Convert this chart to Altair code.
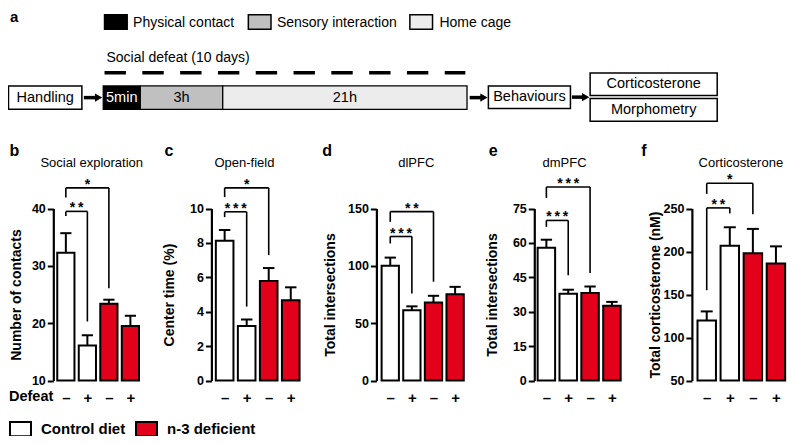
import json
import altair as alt
import pandas as pd

# ---------------- data ----------------
defeat = ["–", "+", "–", "+"]
diet = ["Control diet", "Control diet", "n-3 deficient", "n-3 deficient"]
diet_names = ["Control diet", "n-3 deficient"]
diet_colors = ["#ffffff", "#e2001a"]

panel_letters = ["b", "c", "d", "e", "f"]
panel_titles = ["Social exploration", "Open-field", "dlPFC", "dmPFC", "Corticosterone"]
y_titles = ["Number of contacts", "Center time (%)", "Total intersections",
            "Total intersections", "Total corticosterone (nM)"]
y_domains = [[10, 40], [0, 10], [0, 150], [0, 75], [50, 250]]
y_ticks = [[10, 20, 30, 40], [0, 2, 4, 6, 8, 10], [0, 50, 100, 150],
           [0, 15, 30, 45, 60, 75], [50, 100, 150, 200, 250]]

social_mean = [32.3, 16.1, 23.4, 19.5]
social_sem = [3.4, 1.8, 0.7, 1.8]
openfield_mean = [8.13, 3.17, 5.79, 4.67]
openfield_sem = [0.62, 0.38, 0.75, 0.75]
dlpfc_mean = [100.0, 61.2, 68.1, 75.3]
dlpfc_sem = [7.2, 3.5, 5.8, 6.4]
dmpfc_mean = [57.9, 37.8, 38.2, 32.6]
dmpfc_sem = [3.5, 1.8, 2.8, 1.7]
cort_mean = [119.9, 206.8, 198.0, 186.0]
cort_sem = [10.5, 21.4, 28.3, 20.0]

# significance brackets: (from, to, top, left foot, right foot, label)
social_sig = [(0, 1, 39.5, 38.7, 20.3, "**"), (0, 2, 43.6, 41.9, 26.1, "*")]
openfield_sig = [(0, 1, 9.81, 9.5, 4.3, "***"), (0, 2, 11.2, 10.66, 7.29, "*")]
dlpfc_sig = [(0, 1, 125.6, 119.5, 76.0, "***"), (0, 2, 147.3, 138.4, 86.2, "**")]
dmpfc_sig = [(0, 1, 69.8, 67.0, 45.9, "***"), (0, 2, 84.4, 79.6, 46.9, "***")]
cort_sig = [(0, 1, 250.7, 155.0, 244.3, "**"), (0, 2, 279.3, 267.0, 243.2, "*")]

# schematic (panel a)
key_labels = ["Physical contact", "Sensory interaction", "Home cage"]
phase_labels = ["5min", "3h", "21h"]
phase_fills = ["#000000", "#c0c0c0", "#ececec"]
phase_text = ["#ffffff", "#000000", "#000000"]
step_labels = ["Handling", "Behaviours", "Corticosterone", "Morphometry"]

# ---------------- layout (reference pixels) ----------------
W, H = 780, 428
SX, SY = 0.985, 0.971
X_DOM = [4, 4 + W / SX]
Y_DOM = [4, 4 + H / SY]


def cx(r):
    return (r - 4) * SX


def cy(r):
    return (r - 4) * SY


FONT = "Liberation Sans"
PLOT_TOP, PLOT_BOTTOM = 210.5, 387.7
LABEL_ROW = 405
axis_x = [50, 210.5, 378, 538.3, 698.3]
bar_span = [(54, 137), (215, 300), (383.3, 466.7), (541.7, 626), (704, 793)]
ytitle_x = [12.5, 168.3, 331, 496, 661]
title_x = [89, 244, 418.5, 569, 748]
letter_x = [5.5, 163, 323, 492, 647]
HW = 0.4      # half bar width (index units)
CAP = 0.26    # half error-cap width

cxs = alt.Scale(domain=X_DOM, range=[0, W], nice=False, zero=False)
cys = alt.Scale(domain=Y_DOM, range=[0, H], nice=False, zero=False)


def X(f):
    return alt.X(f, type="quantitative", scale=cxs, axis=None)


def Y(f):
    return alt.Y(f, type="quantitative", scale=cys, axis=None)


def text_layer(df, size, weight="normal", align="left", baseline="alphabetic", color="black"):
    return alt.Chart(df).mark_text(font=FONT, fontSize=size, fontWeight=weight, align=align,
                                   baseline=baseline, color=color).encode(
        x=X("x"), y=Y("y"), text="t:N")


# ---- canvas (schematic + labels) ----
keys_df = pd.DataFrame({"t": key_labels, "x": [102, 248, 412], "fill": phase_fills})
keys_df["x2"] = keys_df["x"] + 23
keys_df["y"] = 11
keys_df["y2"] = 26
key_rects = alt.Chart(keys_df).mark_rect(stroke="black", strokeWidth=1.5).encode(
    x=X("x"), x2="x2:Q", y=Y("y"), y2="y2:Q", fill=alt.Fill("fill:N", scale=None))
key_text = text_layer(pd.DataFrame({"t": key_labels, "x": [131, 277, 442], "y": [19.5] * 3}),
                      14, baseline="middle")

seg_df = pd.DataFrame({"t": phase_labels, "x": [100.7, 138.3, 222], "x2": [138.3, 222, 470],
                       "fill": phase_fills, "tc": phase_text})
seg_df["y"] = 84.3
seg_df["y2"] = 108.3
seg_rects = alt.Chart(seg_df).mark_rect(stroke="black", strokeWidth=1.3).encode(
    x=X("x"), x2="x2:Q", y=Y("y"), y2="y2:Q", fill=alt.Fill("fill:N", scale=None))
seg_text = alt.Chart(seg_df).transform_calculate(
    cxm="(datum.x + datum.x2) / 2", cym="(datum.y + datum.y2) / 2").mark_text(
    font=FONT, fontSize=14.5, baseline="middle", align="center").encode(
    x=X("cxm"), y=Y("cym"), text="t:N", fill=alt.Fill("tc:N", scale=None))

box_df = pd.DataFrame({"t": step_labels, "x": [4.5, 491.7, 595, 595], "x2": [79, 575, 724, 724],
                       "y": [84.3, 84.3, 71, 97.3], "y2": [108.3, 107.6, 94, 120.7]})
box_rects = alt.Chart(box_df).mark_rect(fill="white", stroke="black", strokeWidth=1.5).encode(
    x=X("x"), x2="x2:Q", y=Y("y"), y2="y2:Q")
box_text = alt.Chart(box_df).transform_calculate(
    cxm="(datum.x + datum.x2) / 2", cym="(datum.y + datum.y2) / 2").mark_text(
    font=FONT, fontSize=14.5, baseline="middle", align="center", color="black").encode(
    x=X("cxm"), y=Y("cym"), text="t:N")

arrow_df = pd.DataFrame({"x": [81, 472.7, 576.5], "x2": [100.5, 491.7, 595], "y": [96.3, 96.3, 95.8]})
arrow_df["xs"] = arrow_df["x2"] - 6
arrow_df["xh"] = arrow_df["x2"] - 4.5
arrow_shaft = alt.Chart(arrow_df).mark_rule(color="black", strokeWidth=3.5).encode(
    x=X("x"), x2="xs:Q", y=Y("y"))
arrow_head = alt.Chart(arrow_df).mark_point(shape="triangle-right", filled=True, color="black",
                                            opacity=1, size=70).encode(x=X("xh"), y=Y("y"))

dash_df = pd.DataFrame({"x": [102], "x2": [468.3], "y": [70.7]})
dashes = alt.Chart(dash_df).mark_rule(color="black", strokeWidth=3.5, strokeDash=[21.4, 16.4]).encode(
    x=X("x"), x2="x2:Q", y=Y("y"))

defeat_title = text_layer(pd.DataFrame({"t": ["Social defeat (10 days)"], "x": [104], "y": [59.5]}), 14)
letter_a = text_layer(pd.DataFrame({"t": ["a"], "x": [6], "y": [18]}), 15, weight="bold")
letters = text_layer(pd.DataFrame({"t": panel_letters, "x": letter_x, "y": [156.5] * 5}), 16, weight="bold")
titles = text_layer(pd.DataFrame({"t": panel_titles, "x": title_x, "y": [163.5] * 5}), 13,
                    align="center", baseline="middle")
defeat_lab = text_layer(pd.DataFrame({"t": ["Defeat"], "x": [5], "y": [LABEL_ROW]}), 14.5, weight="bold",
                        baseline="middle")

canvas = alt.layer(key_rects, key_text, dashes, defeat_title, seg_rects, seg_text, box_rects, box_text,
                   arrow_shaft, arrow_head, letter_a, letters, titles, defeat_lab)

# ---- bar panels ----
label_expr = json.dumps(defeat, ensure_ascii=False) + "[datum.value]"
fill_scale = alt.Scale(domain=diet_names, range=diet_colors)
legend = alt.Legend(orient="none", legendX=cx(5), legendY=cy(436.5) - 10.5, direction="horizontal",
                    title=None, symbolType="M-1,-0.68H1V0.68H-1Z", symbolSize=441,
                    symbolStrokeColor="black", symbolStrokeWidth=2, symbolOpacity=1,
                    labelFont=FONT, labelFontSize=15, labelFontWeight="bold", labelColor="black",
                    labelOffset=9, columnPadding=6, padding=0)


def panel(k, means, sems, sig):
    df = pd.DataFrame({"idx": list(range(4)), "diet": diet, "mean": means, "sem": sems})
    xs = alt.Scale(domain=[-HW, 3 + HW], range=[cx(bar_span[k][0]), cx(bar_span[k][1])],
                   nice=False, zero=False)
    ys = alt.Scale(domain=y_domains[k], range=[cy(PLOT_BOTTOM), cy(PLOT_TOP)], nice=False, zero=False)
    x_axis = alt.Axis(orient="bottom", values=[0, 1, 2, 3], labelExpr=label_expr, domain=False,
                      ticks=False, tickSize=0, grid=False, title=None, labelFont=FONT,
                      labelFontSize=15, labelFontWeight="bold", labelColor="black",
                      labelBaseline="middle", labelPadding=cy(LABEL_ROW) - cy(PLOT_BOTTOM),
                      labelFlush=False, labelOverlap=False, offset=cy(PLOT_BOTTOM) - H)
    y_axis = alt.Axis(orient="left", values=y_ticks[k], offset=-cx(axis_x[k]), grid=False,
                      domainColor="black", domainWidth=2.2, tickColor="black", tickWidth=2, tickSize=6,
                      labelFont=FONT, labelFontSize=12.5, labelFontWeight="bold", labelColor="black",
                      labelPadding=2, labelFlush=False, labelOverlap=False,
                      title=y_titles[k], titleFont=FONT, titleFontSize=14, titleFontWeight="bold",
                      titleColor="black", titleAngle=270, titleAlign="center", titleBaseline="middle",
                      titleX=cx(ytitle_x[k]) - cx(axis_x[k]),
                      titleY=(cy(PLOT_TOP) + cy(PLOT_BOTTOM)) / 2)

    def PX(f):
        return alt.X(f, type="quantitative", scale=xs, axis=x_axis)

    def PY(f):
        return alt.Y(f, type="quantitative", scale=ys, axis=y_axis)

    base = alt.Chart(df).transform_calculate(
        x0=f"datum.idx - {HW}", x1=f"datum.idx + {HW}", top="datum.mean + datum.sem",
        cl=f"datum.idx - {CAP}", cr=f"datum.idx + {CAP}")
    bars = base.mark_rect(stroke="black", strokeWidth=2).encode(
        x=PX("x0"), x2="x1:Q", y=PY("mean"), y2=alt.datum(y_domains[k][0]),
        fill=alt.Fill("diet:N", scale=fill_scale, legend=legend if k == 0 else None))
    err = base.mark_rule(color="black", strokeWidth=2).encode(x=PX("idx"), y=PY("mean"), y2="top:Q")
    cap = base.mark_rule(color="black", strokeWidth=2).encode(x=PX("cl"), x2="cr:Q", y=PY("top"))
    sdf = pd.DataFrame(sig, columns=["i", "j", "top", "lb", "rb", "label"])
    sdf["mid"] = (sdf["i"] + sdf["j"]) / 2
    sdf["shown"] = sdf["label"].map(lambda s: "\u2009".join(s))
    sb = alt.Chart(sdf)
    left = sb.mark_rule(color="black", strokeWidth=1.6).encode(x=PX("i"), y=PY("lb"), y2="top:Q")
    horiz = sb.mark_rule(color="black", strokeWidth=1.6).encode(x=PX("i"), x2="j:Q", y=PY("top"))
    right = sb.mark_rule(color="black", strokeWidth=1.6).encode(x=PX("j"), y=PY("rb"), y2="top:Q")
    stars = sb.mark_text(font=FONT, fontSize=14, fontWeight="bold", baseline="alphabetic",
                         align="center", color="black", dy=1).encode(
        x=PX("mid"), y=PY("top"), text="shown:N")
    return alt.layer(bars, err, cap, left, horiz, right, stars)


panels = [
    panel(0, social_mean, social_sem, social_sig),
    panel(1, openfield_mean, openfield_sem, openfield_sig),
    panel(2, dlpfc_mean, dlpfc_sem, dlpfc_sig),
    panel(3, dmpfc_mean, dmpfc_sem, dmpfc_sig),
    panel(4, cort_mean, cort_sem, cort_sig),
]

chart = alt.layer(canvas, *panels).resolve_scale(x="independent", y="independent").properties(
    width=W, height=H, padding=0, autosize="none").configure_view(stroke=None)

chart.save("out.html", embed_options={"renderer": "svg", "actions": False})
